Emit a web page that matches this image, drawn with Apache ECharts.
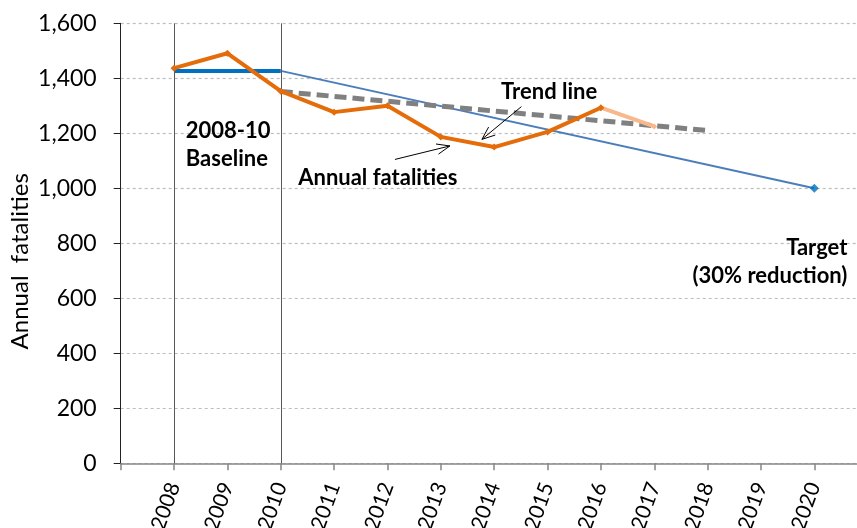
<!DOCTYPE html>
<html>
<head>
<meta charset="utf-8">
<script src="https://cdn.jsdelivr.net/npm/echarts@6/dist/echarts.min.js"></script>
<style>
  html, body { margin: 0; padding: 0; background: #fff; }
  #chart { width: 857px; height: 528px; }
</style>
</head>
<body>
<div id="chart"></div>
<script>
// road deaths per year (2017 is provisional, drawn lighter)
const years = [2008, 2009, 2010, 2011, 2012, 2013, 2014, 2015, 2016];
const fatalities = [1437, 1491, 1353, 1277, 1300, 1187, 1150, 1205, 1293];
const provisionalYears = [2016, 2017];
const provisional = [1293, 1225];
// 2008-10 baseline average and path to the 2020 target
const baselineYears = [2008, 2010];
const baseline = [1427, 1427];
const targetYears = [2010, 2020];
const targetPath = [1427, 1000];
const trendYears = [2010, 2018];
const trend = [1352, 1210];
const baselineBounds = [2008, 2010];
const xTickLabels = ['2008', '2009', '2010', '2011', '2012', '2013', '2014',
  '2015', '2016', '2017', '2018', '2019', '2020'];

const FONT = 'Lato';
const pair = (xs, ys) => xs.map((x, i) => [x, ys[i]]);

const chart = echarts.init(document.getElementById('chart'));

const option = {
  animation: false,
  grid: { left: 120.7, right: 0, top: 23.3, bottom: 64.7, outerBoundsMode: 'none', containLabel: false },
  xAxis: {
    type: 'value',
    min: 2007,
    max: 2020.8,
    interval: 1,
    axisLine: { lineStyle: { color: '#868686', width: 1.5 } },
    axisTick: { show: true, length: 7, lineStyle: { color: '#868686', width: 1.5 } },
    splitLine: { show: false },
    axisLabel: {
      rotate: 70,
      margin: 20,
      fontFamily: FONT,
      fontSize: 21,
      color: '#000',
      showMaxLabel: false,
      formatter: v => xTickLabels.includes(String(v)) ? String(v) : ''
    }
  },
  yAxis: {
    type: 'value',
    min: 0,
    max: 1600,
    interval: 200,
    name: 'Annual  fatalities',
    nameLocation: 'middle',
    nameGap: 88,
    nameMoveOverlap: false,
    nameTextStyle: { fontFamily: FONT, fontSize: 24, color: '#000', padding: [0, 36, 0, 0] },
    axisLine: { show: true, lineStyle: { color: '#222', width: 1 } },
    axisTick: { show: true, length: 7, lineStyle: { color: '#222' } },
    axisLabel: { margin: 24, fontFamily: FONT, fontSize: 23, color: '#000' },
    splitLine: { lineStyle: { color: '#bdbdbd', type: [3, 3], width: 1.2 } }
  },
  series: [
    {
      name: 'Target path',
      type: 'line',
      data: pair(targetYears, targetPath),
      symbol: 'none',
      lineStyle: { color: '#4a7ebb', width: 2 },
      z: 2
    },
    {
      name: 'Target',
      type: 'scatter',
      data: [pair(targetYears, targetPath)[1]],
      symbol: 'diamond',
      symbolSize: 9,
      itemStyle: { color: '#0070c0' },
      z: 3
    },
    {
      name: 'Baseline',
      type: 'line',
      data: pair(baselineYears, baseline),
      symbol: 'none',
      lineStyle: { color: '#0070c0', width: 4 },
      markLine: {
        silent: true,
        symbol: 'none',
        label: { show: false },
        lineStyle: { color: '#595959', width: 1, type: 'solid' },
        data: baselineBounds.map(x => ({ xAxis: x }))
      },
      z: 3
    },
    {
      name: 'Trend line',
      type: 'line',
      data: pair(trendYears, trend),
      symbol: 'none',
      lineStyle: { color: '#808080', width: 5, type: [12, 6] },
      z: 4
    },
    {
      name: 'Provisional',
      type: 'line',
      data: pair(provisionalYears, provisional),
      symbol: 'diamond',
      symbolSize: 6,
      itemStyle: { color: '#f8b88b' },
      lineStyle: { color: '#f8b88b', width: 4 },
      z: 5
    },
    {
      name: 'Annual fatalities',
      type: 'line',
      data: pair(years, fatalities),
      symbol: 'diamond',
      symbolSize: 7,
      itemStyle: { color: '#e46c0a' },
      lineStyle: { color: '#e46c0a', width: 4 },
      z: 6
    }
  ]
};
chart.setOption(option);

// annotations placed in data coordinates
const notes = [
  { text: '2008-10\nBaseline', at: [2008.22, 1156], align: 'left' },
  { text: 'Annual fatalities', at: [2011.82, 1036], align: 'center' },
  { text: 'Trend line', at: [2015.03, 1350], align: 'center' },
  { text: 'Target\n(30% reduction)', at: [2020.62, 733], align: 'right' }
];
const arrows = [
  { from: [2014.51, 1297], to: [2013.77, 1178] },
  { from: [2012.14, 1105], to: [2013.17, 1154] }
];

const toPx = p => chart.convertToPixel({ gridIndex: 0 }, p);
const graphic = [];
notes.forEach(n => {
  const p = toPx(n.at);
  graphic.push({
    type: 'text',
    x: p[0], y: p[1],
    style: {
      text: n.text,
      fontFamily: FONT,
      fontWeight: 'bold',
      fontSize: 22,
      lineHeight: 28,
      fill: '#000',
      align: n.align,
      verticalAlign: 'middle'
    },
    z: 10
  });
});
arrows.forEach(a => {
  const s = toPx(a.from), e = toPx(a.to);
  const ang = Math.atan2(e[1] - s[1], e[0] - s[0]);
  const len = 14, spread = 0.38;
  const w1 = [e[0] - len * Math.cos(ang - spread), e[1] - len * Math.sin(ang - spread)];
  const w2 = [e[0] - len * Math.cos(ang + spread), e[1] - len * Math.sin(ang + spread)];
  graphic.push({
    type: 'polyline', shape: { points: [s, e] },
    style: { stroke: '#000', lineWidth: 1, fill: null }, z: 10
  });
  graphic.push({
    type: 'polyline', shape: { points: [w1, e, w2] },
    style: { stroke: '#000', lineWidth: 1, fill: null }, z: 10
  });
});
chart.setOption({ graphic: graphic });
</script>
</body>
</html>
